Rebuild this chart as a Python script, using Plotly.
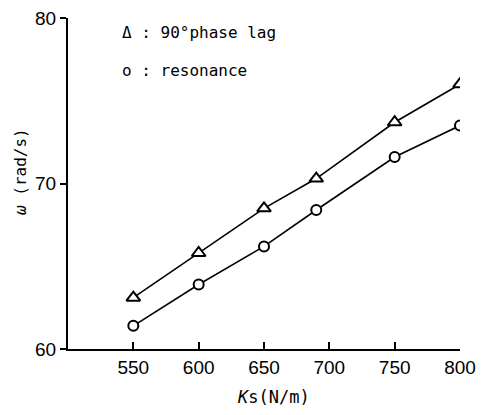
import plotly.graph_objects as go

# Data
ks = [550, 600, 650, 690, 750, 800]
phase_lag = [63.1, 65.8, 68.5, 70.3, 73.7, 76.0]
resonance = [61.4, 63.9, 66.2, 68.4, 71.6, 73.5]

x_ticks = [550, 600, 650, 700, 750, 800]
y_ticks = [60, 70, 80]

# the page body adds an 8px margin on every side; keep the figure inside the window
OFF = 8
W, H = 484 - 2 * OFF, 415 - 2 * OFF
# target plot area in window pixels: x 68..460, y 18..349
L = 68 - OFF
R = W - (460 - OFF)
T = 18 - OFF
B = H - (349 - OFF)
pw = W - L - R
ph = H - T - B

def px_x(p):
    return (p - OFF - L) / pw

def px_y(p):
    return (H - B - (p - OFF)) / ph

fig = go.Figure()
fig.add_trace(go.Scatter(
    x=ks, y=phase_lag, mode="lines+markers",
    line=dict(color="black", width=1.6),
    marker=dict(symbol="triangle-up", size=12, color="white",
                line=dict(color="black", width=2)),
    showlegend=False))
fig.add_trace(go.Scatter(
    x=ks, y=resonance, mode="lines+markers",
    line=dict(color="black", width=1.6),
    marker=dict(symbol="circle", size=10, color="white",
                line=dict(color="black", width=2)),
    showlegend=False))

tick_font = dict(family="Liberation Sans Narrow, Liberation Sans, sans-serif", size=19, color="black")
mono = "DejaVu Sans Mono, monospace"

fig.update_xaxes(range=[500, 800], tickvals=x_ticks, ticktext=[str(v) for v in x_ticks],
                 showline=True, linecolor="black", linewidth=2,
                 ticks="inside", ticklen=7, tickwidth=2, tickcolor="black",
                 showgrid=False, zeroline=False, tickfont=tick_font,
                 ticklabeloverflow="allow", automargin=False)
fig.update_yaxes(range=[60, 80], tickvals=y_ticks, ticktext=[str(v) for v in y_ticks],
                 showline=True, linecolor="black", linewidth=2,
                 ticks="outside", ticklen=6, tickwidth=2, tickcolor="black",
                 showgrid=False, zeroline=False, tickfont=tick_font,
                 ticklabeloverflow="allow", automargin=False)

annotations = [
    dict(text="Δ : 90°phase lag", x=px_x(120), y=px_y(33), xref="paper", yref="paper",
         xanchor="left", yanchor="middle", showarrow=False,
         font=dict(family=mono, size=16, color="black")),
    dict(text="o : resonance", x=px_x(120), y=px_y(70), xref="paper", yref="paper",
         xanchor="left", yanchor="middle", showarrow=False,
         font=dict(family=mono, size=16, color="black")),
    dict(text="<i>K</i>s(N/m)", x=px_x(273), y=px_y(397), xref="paper", yref="paper",
         xanchor="center", yanchor="middle", showarrow=False,
         font=dict(family=mono, size=17, color="black")),
    dict(text="<i>ω</i> (rad/s)", x=px_x(20), y=px_y(172), xref="paper", yref="paper",
         xanchor="center", yanchor="middle", showarrow=False, textangle=-90,
         font=dict(family=mono, size=16, color="black")),
]

fig.update_layout(width=W, height=H, margin=dict(l=L, r=R, t=T, b=B),
                  plot_bgcolor="white", paper_bgcolor="white",
                  annotations=annotations)

fig.write_html("out.html")
